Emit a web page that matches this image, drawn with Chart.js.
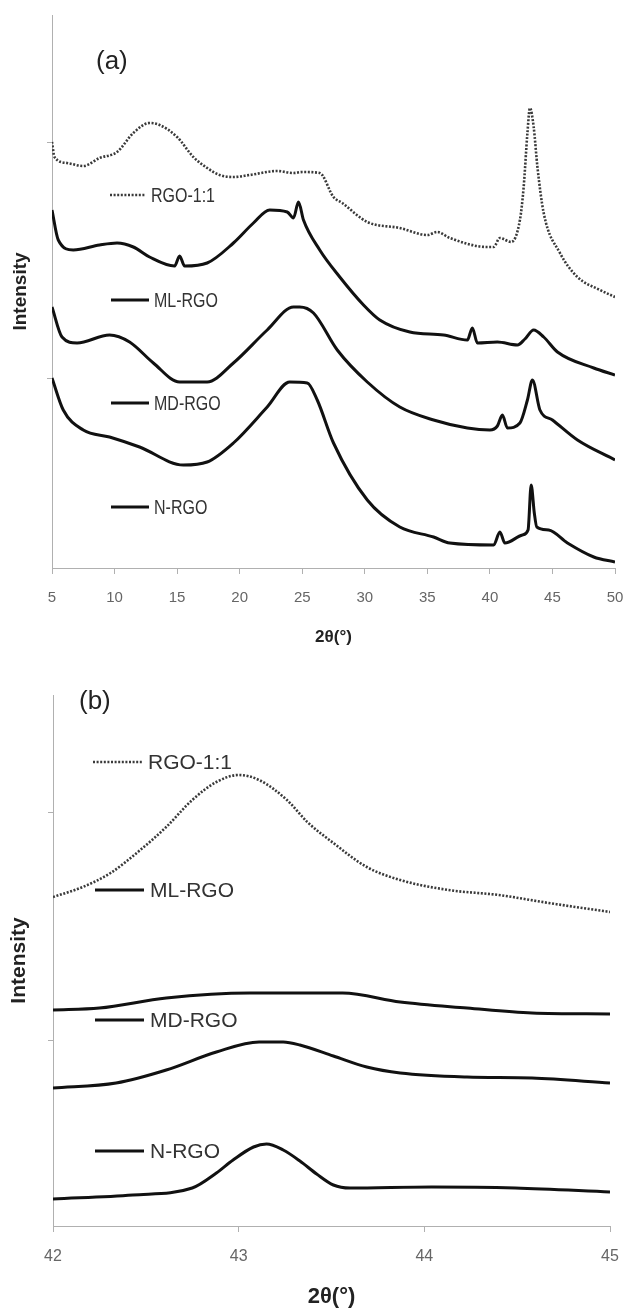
<!DOCTYPE html>
<html>
<head>
<meta charset="utf-8">
<script src="https://cdn.jsdelivr.net/npm/chart.js@4.4.0/dist/chart.umd.min.js"></script>
<style>
  body { margin: 0; background: #fff; width: 627px; height: 1310px; overflow: hidden; }
  .box { position: absolute; left: 0; width: 627px; }
  #boxA { top: 0; height: 660px; }
  #boxB { top: 660px; height: 650px; }
</style>
</head>
<body>
<div class="box" id="boxA"><canvas id="chartA"></canvas></div>
<div class="box" id="boxB"><canvas id="chartB"></canvas></div>
<script>
// ---- (a) 2θ = 5..50, intensity in arbitrary units ----
const thetaRgoA = [5, 5.2, 6.2, 7.5, 8.8, 10.2, 11.5, 12.8, 13.6, 15, 16.3, 17.4, 18.4, 19.5, 20.8, 23, 24.3, 25, 26.4, 27.5, 28.2, 30.2, 32.8, 35, 35.8, 36.8, 39.8, 40.3, 40.8, 41.7, 42.4, 42.7, 43, 43.2, 43.5, 43.8, 44.3, 45.6, 47, 48.8, 50];
const rgoA = [426, 411, 405, 402, 410, 416, 435, 445, 443, 431, 411, 400, 393, 391, 393, 397, 395, 396, 395, 371, 365, 346, 340, 333, 336, 330, 321, 321, 330, 326, 348, 381, 435, 460, 441, 401, 355, 315, 291, 278, 271];

const thetaMlA = [5, 5.5, 6.7, 8.8, 10.2, 11.5, 12.8, 14.8, 15.2, 15.6, 17.4, 19.5, 21.1, 22.4, 23.8, 24.3, 24.7, 25.1, 26.4, 28, 29.9, 31.2, 33.6, 36.3, 38.2, 38.6, 39, 40.6, 42.2, 42.8, 43.5, 44.3, 45.4, 48.3, 50];
const mlA = [358, 328, 318, 323, 325, 321, 311, 302, 312, 302, 305, 325, 345, 358, 356, 350, 366, 348, 318, 291, 263, 248, 236, 233, 228, 240, 225, 226, 223, 229, 238, 231, 216, 200, 193];

const thetaMdA = [5, 5.8, 7, 9.6, 11.2, 13.1, 15.2, 17.4, 19.5, 22.2, 24.3, 24.8, 25.9, 27.8, 30.2, 32.8, 35.5, 38.2, 40, 40.6, 41, 41.4, 42.4, 43, 43.4, 44, 45, 47, 50];
const mdA = [261, 231, 225, 233, 226, 205, 186, 186, 205, 238, 261, 261, 255, 218, 186, 161, 148, 140, 138, 142, 153, 140, 145, 168, 188, 158, 148, 128, 108];

const thetaNA = [5, 5.9, 7.5, 9.6, 12, 15.5, 17.4, 19.5, 22.2, 24, 25.4, 26.2, 27.5, 30.2, 32.8, 35.5, 36.8, 40.3, 40.8, 41.2, 42.6, 43.05, 43.3, 43.55, 43.75, 44.7, 46.2, 48.3, 50];
const nA = [190, 158, 138, 131, 121, 103, 106, 125, 161, 186, 185, 168, 125, 68, 41, 31, 25, 23, 36, 25, 33, 38, 83, 55, 41, 38, 25, 11, 6];

const xTicksA = [5, 10, 15, 20, 25, 30, 35, 40, 45, 50];
const yTicksA = [190, 426];

// ---- (b) 2θ = 42..45 ----
const thetaRgoB = [42, 42.16, 42.31, 42.47, 42.61, 42.75, 42.88, 43.0, 43.11, 43.26, 43.37, 43.51, 43.69, 43.87, 44.13, 44.4, 44.67, 45];
const rgoB = [329, 339, 353, 376, 399, 426, 444, 451, 446, 426, 404, 383, 359, 346, 336, 331, 323, 314];

const thetaMlB = [42, 42.25, 42.61, 43.06, 43.56, 43.87, 44.23, 44.58, 45];
const mlB = [216, 218, 228, 233, 233, 224, 218, 213, 212];

const thetaMdB = [42, 42.34, 42.61, 42.88, 43.11, 43.24, 43.33, 43.51, 43.69, 43.87, 44.23, 44.58, 45];
const mdB = [138, 143, 156, 174, 184, 184, 181, 170, 159, 153, 149, 148, 143];

const thetaNB = [42, 42.43, 42.75, 42.88, 42.97, 43.08, 43.15, 43.24, 43.33, 43.42, 43.51, 43.6, 44.04, 44.49, 45];
const nB = [27, 31, 38, 53, 66, 79, 82, 76, 65, 52, 41, 38, 39, 38, 34];

const xTicksB = [42, 43, 44, 45];
const yTicksB = [186, 414];

const seriesNames = ['RGO-1:1', 'ML-RGO', 'MD-RGO', 'N-RGO'];

function pts(xs, ys) {
    return xs.map((x, i) => ({ x: x, y: ys[i] }));
}

function lineSet(name, xs, ys, dotted, width) {
    return {
        label: name,
        data: pts(xs, ys),
        borderColor: dotted ? '#3a3a3a' : '#111',
        borderWidth: dotted ? 2.6 : width,
        borderDash: dotted ? [2, 1.6] : [],
        pointRadius: 0,
        cubicInterpolationMode: 'monotone',
        fill: false
    };
}

// legend samples + panel letter drawn as free text inside the plot
const panelText = {
    id: 'panelText',
    afterDatasetsDraw(chart, args, opts) {
        const ctx = chart.ctx;
        ctx.save();
        ctx.textBaseline = 'middle';
        ctx.fillStyle = '#222';
        ctx.font = opts.letterFont;
        ctx.fillText(opts.letter, opts.letterX, opts.letterY);
        opts.items.forEach((it, i) => {
            ctx.beginPath();
            ctx.strokeStyle = i === 0 ? '#3a3a3a' : '#111';
            ctx.lineWidth = i === 0 ? 2.6 : 3;
            ctx.setLineDash(i === 0 ? [2, 1.6] : []);
            ctx.moveTo(it.x0, it.y);
            ctx.lineTo(it.x1, it.y);
            ctx.stroke();
            ctx.save();
            ctx.translate(it.x1 + opts.gap, it.y + 1);
            ctx.scale(opts.squeeze, 1);
            ctx.fillStyle = '#333';
            ctx.font = opts.font;
            ctx.fillText(seriesNames[i], 0, 0);
            ctx.restore();
        });
        ctx.restore();
    }
};

function makeChart(id, cfg) {
    return new Chart(document.getElementById(id), {
        type: 'line',
        data: { datasets: cfg.datasets },
        options: {
            responsive: true,
            maintainAspectRatio: false,
            animation: false,
            layout: { padding: cfg.padding },
            plugins: {
                legend: { display: false },
                tooltip: { enabled: false },
                panelText: cfg.panel
            },
            scales: {
                x: {
                    type: 'linear',
                    min: cfg.xTicks[0],
                    max: cfg.xTicks[cfg.xTicks.length - 1],
                    afterBuildTicks: s => { s.ticks = cfg.xTicks.map(v => ({ value: v })); },
                    afterFit: s => { s.height = cfg.xHeight; s.paddingLeft = 0; s.paddingRight = 0; },
                    grid: { drawOnChartArea: false, color: '#b0b0b0', tickLength: 6 },
                    border: { color: '#b0b0b0' },
                    ticks: { color: '#666', padding: cfg.tickPad, font: cfg.tickFont, maxRotation: 0 },
                    title: { display: true, text: '2θ(°)', color: '#222', font: cfg.xTitleFont, padding: { top: 0, bottom: cfg.xTitlePad } }
                },
                y: {
                    min: 0,
                    max: cfg.yMax,
                    afterBuildTicks: s => { s.ticks = cfg.yTicks.map(v => ({ value: v })); },
                    afterFit: s => { s.width = cfg.yWidth; },
                    grid: { drawOnChartArea: false, color: '#b0b0b0', tickLength: 5 },
                    border: { color: '#b0b0b0' },
                    ticks: { display: false },
                    title: { display: true, text: 'Intensity', color: '#222', font: cfg.yTitleFont, padding: { top: cfg.yTitlePad, bottom: 0 } }
                }
            }
        },
        plugins: [panelText]
    });
}

makeChart('chartA', {
    datasets: [
        lineSet(seriesNames[0], thetaRgoA, rgoA, true),
        lineSet(seriesNames[1], thetaMlA, mlA, false, 3),
        lineSet(seriesNames[2], thetaMdA, mdA, false, 3),
        lineSet(seriesNames[3], thetaNA, nA, false, 3)
    ],
    padding: { top: 15, right: 12, left: 0, bottom: 0 },
    xTicks: xTicksA, yTicks: yTicksA, yMax: 553,
    xHeight: 92, yWidth: 52, tickPad: 15,
    tickFont: { family: "'Liberation Sans Narrow', 'Liberation Sans', Arial", size: 15 },
    xTitleFont: { family: "'Liberation Sans', Arial", size: 17, weight: 'bold' },
    xTitlePad: 12,
    yTitleFont: { family: "'Liberation Sans', Arial", size: 19, weight: 'bold' },
    yTitlePad: 9,
    panel: {
        letter: '(a)', letterX: 96, letterY: 62,
        letterFont: "26px 'Liberation Sans', Arial",
        font: "20px 'Liberation Sans', Arial", squeeze: 0.8, gap: 5,
        items: [
            { x0: 110, x1: 146, y: 195 },
            { x0: 111, x1: 149, y: 300 },
            { x0: 111, x1: 149, y: 403 },
            { x0: 111, x1: 149, y: 507 }
        ]
    }
});

makeChart('chartB', {
    datasets: [
        lineSet(seriesNames[0], thetaRgoB, rgoB, true),
        lineSet(seriesNames[1], thetaMlB, mlB, false, 3),
        lineSet(seriesNames[2], thetaMdB, mdB, false, 3),
        lineSet(seriesNames[3], thetaNB, nB, false, 3)
    ],
    padding: { top: 35, right: 17, left: 0, bottom: 0 },
    xTicks: xTicksB, yTicks: yTicksB, yMax: 531,
    xHeight: 84, yWidth: 53, tickPad: 15,
    tickFont: { family: "'Liberation Sans', Arial", size: 16 },
    xTitleFont: { family: "'Liberation Sans', Arial", size: 22, weight: 'bold' },
    xTitlePad: 0,
    yTitleFont: { family: "'Liberation Sans', Arial", size: 21, weight: 'bold' },
    yTitlePad: 7,
    panel: {
        letter: '(b)', letterX: 79, letterY: 42,
        letterFont: "26px 'Liberation Sans', Arial",
        font: "21px 'Liberation Sans', Arial", squeeze: 1, gap: 6,
        items: [
            { x0: 93, x1: 142, y: 102 },
            { x0: 95, x1: 144, y: 230 },
            { x0: 95, x1: 144, y: 360 },
            { x0: 95, x1: 144, y: 491 }
        ]
    }
});
</script>
</body>
</html>
